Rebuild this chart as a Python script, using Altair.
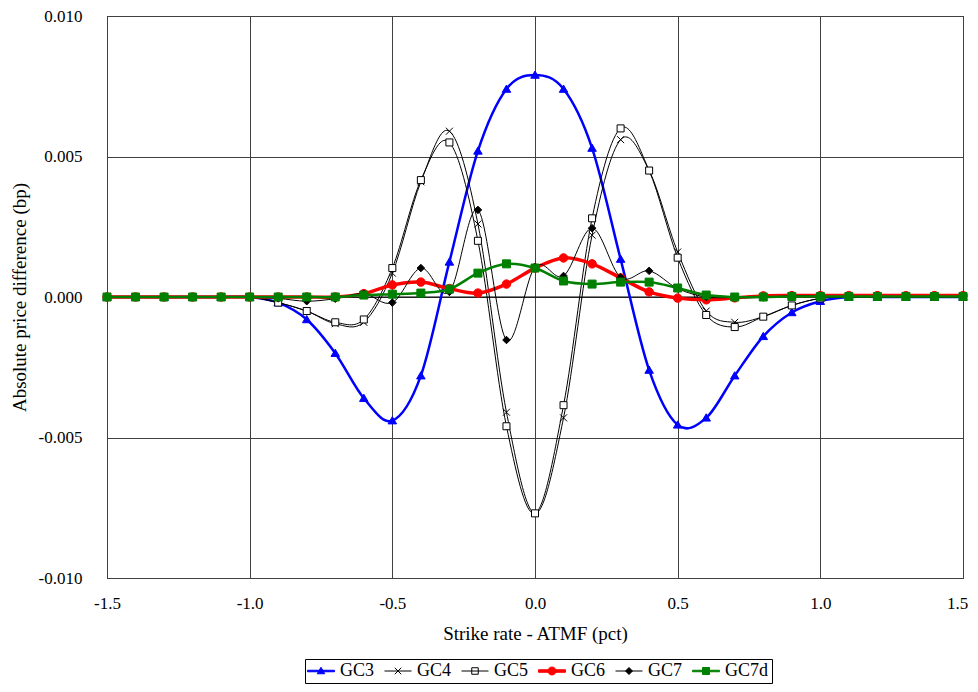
import math
import altair as alt
import pandas as pd

# ---------------- data ----------------
strike = [-1.5, -1.4, -1.3, -1.2, -1.1, -1.0, -0.9, -0.8, -0.7, -0.6, -0.5,
          -0.4, -0.3, -0.2, -0.1, 0.0, 0.1, 0.2, 0.3, 0.4, 0.5,
          0.6, 0.7, 0.8, 0.9, 1.0, 1.1, 1.2, 1.3, 1.4, 1.5]

series_names = ["GC3", "GC4", "GC5", "GC6", "GC7", "GC7d"]

gc3 = [0, 0, 0, 0, 0, 0, -0.0002, -0.0008, -0.0020, -0.0036, -0.0044,
       -0.0028, 0.00125, 0.0052, 0.0074, 0.0079, 0.0074, 0.0053, 0.00135, -0.0026, -0.00455,
       -0.0043, -0.0028, -0.0014, -0.00055, -0.00015, 0, 0, 0, 0, 0]
gc4 = [0, 0, 0, 0, 0, 0, -0.0002, -0.0005, -0.00095, -0.0009, 0.00085,
       0.0041, 0.0059, 0.0026, -0.0041, -0.0077, -0.0043, 0.0022, 0.0056, 0.0045, 0.0016,
       -0.0005, -0.0009, -0.0007, -0.0003, -0.00005, 0, 0, 0, 0, 0]
gc5 = [0, 0, 0, 0, 0, 0, -0.0002, -0.0005, -0.0009, -0.0008, 0.00103,
       0.00416, 0.0055, 0.0020, -0.0046, -0.0077, -0.00385, 0.0028, 0.0060, 0.0045, 0.0014,
       -0.00064, -0.00107, -0.0007, -0.0003, -0.00005, 0, 0, 0, 0, 0]
gc6 = [0, 0, 0, 0, 0, 0, 0, 0, 0, 0.00012, 0.00043,
       0.00053, 0.0003, 0.00014, 0.00046, 0.00103, 0.00139, 0.00118, 0.00068, 0.00018, -0.00004,
       -0.0001, -0.00003, 0.00004, 0.00005, 0.00005, 0.00005, 0.00005, 0.00005, 0.00005, 0.00005]
gc7 = [0, 0, 0, 0, 0, 0, -0.00005, -0.00015, -0.00006, 0.00012, -0.0002,
       0.00103, 0.00018, 0.0031, -0.00153, 0.00107, 0.00075, 0.00245, 0.0007, 0.00093, 0.0003,
       0.0, -0.00002, -0.00002, 0.00005, 0.00002, 0, 0, 0, 0, 0]
gc7d = [0, 0, 0, 0, 0, 0, 0, 0, 0, 0.00007, 0.0001,
        0.00014, 0.00028, 0.00085, 0.00118, 0.00103, 0.00057, 0.00046, 0.00053, 0.00053, 0.00032,
        0.00007, 0.0, 0.0, 0.00002, 0.00002, 0.00002, 0.00002, 0.00002, 0.00002, 0.00002]

values = {"GC3": gc3, "GC4": gc4, "GC5": gc5, "GC6": gc6, "GC7": gc7, "GC7d": gc7d}

x_ticks = [-1.5, -1.0, -0.5, 0.0, 0.5, 1.0, 1.5]
y_ticks = [-0.010, -0.005, 0.000, 0.005, 0.010]

rows = []
for name in series_names:
    for xv, yv in zip(strike, values[name]):
        rows.append({"strike": xv, "diff": yv, "series": name})
df = pd.DataFrame(rows)

# ---------------- styles ----------------
FONT = "Times New Roman, Liberation Serif, serif"


def poly(n, rad):
    pts = [(rad * math.cos(2 * math.pi * k / n), rad * math.sin(2 * math.pi * k / n)) for k in range(n)]
    return "M" + "L".join(f"{a:.3f},{b:.3f}" for a, b in pts) + "Z"


marker = {
    "GC3": "M0,-0.8L0.85,0.65L-0.85,0.65Z",
    "GC4": "M-0.7,-0.7L0.7,0.7M-0.7,0.7L0.7,-0.7",
    "GC5": "M-0.7,-0.7H0.7V0.7H-0.7Z",
    "GC6": poly(16, 0.85),
    "GC7": "M0,-0.75L0.75,0L0,0.75L-0.75,0Z",
    "GC7d": "M-0.8,-0.8H0.8V0.8H-0.8Z",
}
legend_marker = {
    "GC3": "M0,-0.75L0.75,0.55L-0.75,0.55Z",
    "GC4": "M-0.65,-0.65L0.65,0.65M-0.65,0.65L0.65,-0.65",
    "GC5": "M-0.65,-0.65H0.65V0.65H-0.65Z",
    "GC6": poly(16, 0.8),
    "GC7": "M0,-0.7L0.7,0L0,0.7L-0.7,0Z",
    "GC7d": "M-0.7,-0.7H0.7V0.7H-0.7Z",
}
legend_line = {
    "GC3": "M-2.7,-0.15H2.7V0.15H-2.7Z",
    "GC4": "M-2.7,0L2.7,0",
    "GC5": "M-2.7,0L2.7,0",
    "GC6": "M-2.7,-0.25H2.7V0.25H-2.7Z",
    "GC7": "M-2.7,0L2.7,0",
    "GC7d": "M-2.7,-0.15H2.7V0.15H-2.7Z",
}
line_color = {"GC3": "#0000ff", "GC4": "#000000", "GC5": "#000000",
              "GC6": "#ff0000", "GC7": "#000000", "GC7d": "#008000"}
marker_fill = {"GC3": "#0000ff", "GC4": "transparent", "GC5": "#ffffff",
               "GC6": "#ff0000", "GC7": "#000000", "GC7d": "#008000"}
line_width = {"GC3": 2.5, "GC4": 1, "GC5": 1, "GC6": 3.5, "GC7": 1, "GC7d": 2.5}

xenc = alt.X(
    "strike:Q",
    scale=alt.Scale(domain=[-1.5, 1.5], nice=False, zero=False),
    axis=alt.Axis(values=x_ticks, title="Strike rate - ATMF (pct)",
                  labelExpr="(datum.value < 0 ? '-' : '') + format(abs(datum.value), '.1f')",
                  labelFlush=False, labelOverlap=False,
                  labelOffset=alt.condition("datum.value > 1.4", alt.value(-6), alt.value(0)),
                  grid=True, ticks=False, domain=False, labelPadding=17, titlePadding=13),
)
yenc = alt.Y(
    "diff:Q",
    scale=alt.Scale(domain=[-0.01, 0.01], nice=False, zero=False),
    axis=alt.Axis(values=y_ticks, title="Absolute price difference (bp)",
                  labelExpr="(datum.value < -0.0000001 ? '-' : '') + format(abs(datum.value), '.3f')",
                  labelFlush=False, labelOverlap=False,
                  grid=True, ticks=False, domain=False, labelPadding=25, titlePadding=9),
)

layers = []

zero = alt.Chart(pd.DataFrame({"strike": [0.0], "diff": [0.0]})).mark_rule(
    color="#000000", strokeWidth=1).encode(y=yenc)
layers.append(zero)

for name in series_names:
    base = alt.Chart(df).transform_filter(alt.datum.series == name)
    layers.append(base.mark_line(interpolate="cardinal", color=line_color[name],
                                 strokeWidth=line_width[name]).encode(x=xenc, y=yenc))
    layers.append(base.mark_point(shape=marker[name], fill=marker_fill[name],
                                  stroke=line_color[name], strokeWidth=1, size=100,
                                  opacity=1).encode(x=xenc, y=yenc))

leg = alt.Legend(orient="none", legendX=198, legendY=643, direction="horizontal",
                 title=None, symbolSize=100, symbolStrokeWidth=1, symbolOpacity=1,
                 symbolOffset=4, labelOffset=10, labelFont=FONT, labelFontSize=18,
                 labelColor="#000000", columnPadding=7, padding=3,
                 strokeColor="#000000", fillColor="#ffffff")

legend_layer = alt.Chart(df).mark_point(opacity=0, size=100).encode(
    x=xenc, y=yenc,
    shape=alt.Shape("series:N", scale=alt.Scale(domain=series_names,
                    range=[legend_line[n] + legend_marker[n] for n in series_names]), legend=leg),
    fill=alt.Fill("series:N", scale=alt.Scale(domain=series_names,
                  range=[marker_fill[n] if n != "GC4" else "#000000" for n in series_names]), legend=leg),
    stroke=alt.Stroke("series:N", scale=alt.Scale(domain=series_names,
                      range=[line_color[n] for n in series_names]), legend=leg),
)
layers.append(legend_layer)

chart = alt.layer(*layers).properties(
    width=856, height=562,
    autosize=alt.AutoSizeParams(type="none"),
    padding={"left": 99, "top": 8, "right": 7, "bottom": 106},
).configure_view(
    stroke="#000000", strokeWidth=1
).configure_axis(
    labelFont=FONT, labelFontSize=17, labelColor="#000000",
    titleFont=FONT, titleFontSize=19, titleFontWeight="normal", titleColor="#000000",
    gridColor="#404040", gridWidth=1, gridOpacity=1,
)

chart.save("out.html", embed_options={"renderer": "svg", "actions": False})
